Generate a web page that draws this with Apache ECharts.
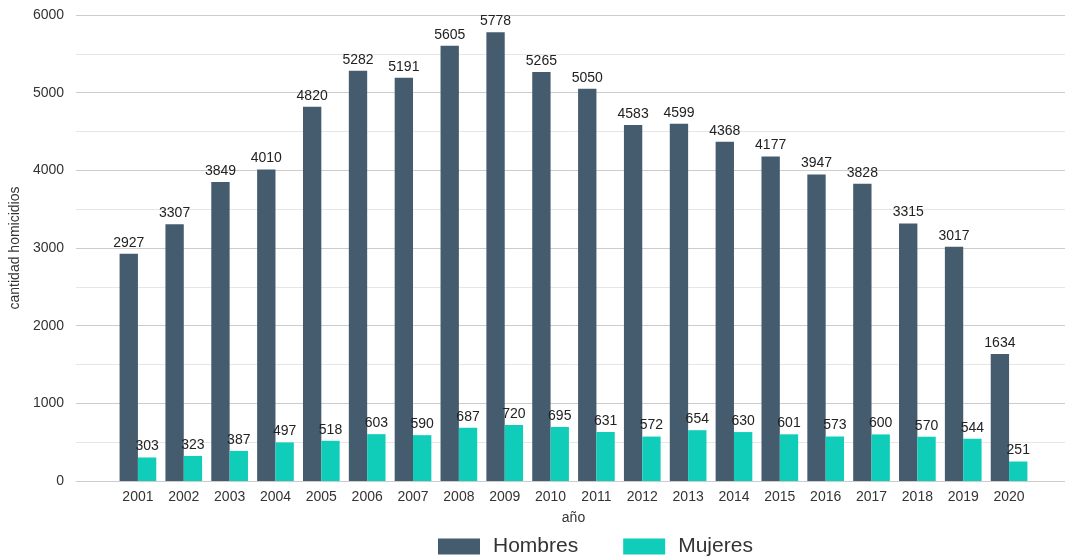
<!doctype html>
<html lang="es">
<head>
	<meta charset="UTF-8">
	<title>Homicidios por sexo</title>
	<script src="https://cdn.jsdelivr.net/npm/echarts@6/dist/echarts.min.js"></script>
	<style>
		html, body { margin: 0; padding: 0; background: #fff; }
		#chart { width: 1069px; height: 559px; }
	</style>
</head>
<body>
	<div id="chart"></div>
	<script>
		// datos
		var years = ['2001', '2002', '2003', '2004', '2005', '2006', '2007', '2008', '2009', '2010',
			'2011', '2012', '2013', '2014', '2015', '2016', '2017', '2018', '2019', '2020'];
		var hombres = [2927, 3307, 3849, 4010, 4820, 5282, 5191, 5605, 5778, 5265,
			5050, 4583, 4599, 4368, 4177, 3947, 3828, 3315, 3017, 1634];
		var mujeres = [303, 323, 387, 497, 518, 603, 590, 687, 720, 695,
			631, 572, 654, 630, 601, 573, 600, 570, 544, 251];

		var chart = echarts.init(document.getElementById('chart'));
		var font = 'Liberation Sans, Arial, sans-serif';

		var option = {
			textStyle: { fontFamily: font },
			animation: false,
			legend: {
				top: 531,
				left: 433,
				itemWidth: 42,
				itemHeight: 16,
				itemGap: 45,
				icon: 'rect',
				textStyle: { fontSize: 21, color: '#333', fontFamily: font, padding: [0, 0, 0, 8] },
				data: ['Hombres', 'Mujeres']
			},
			grid: [
				// grilla ancha para las lineas
				{ left: 72, right: 4, top: 15, bottom: 78 },
				// grilla de las barras
				{ left: 115, right: 37, top: 15, bottom: 78 }
			],
			xAxis: [
				{ gridIndex: 0, type: 'value', min: 0, max: 1, show: false },
				{
					gridIndex: 1,
					type: 'category',
					data: years,
					axisLine: { show: false },
					axisTick: { show: false },
					axisLabel: { color: '#333', fontSize: 14, margin: 9 },
					name: 'año',
					nameLocation: 'middle',
					nameGap: 30,
					nameTextStyle: { color: '#333', fontSize: 14 }
				}
			],
			yAxis: [
				{
					gridIndex: 0,
					type: 'value',
					min: 0,
					max: 6000,
					interval: 1000,
					axisLine: { show: false },
					axisTick: { show: false },
					axisLabel: {
						color: '#333', fontSize: 14, margin: 12,
						formatter: function (v) { return String(v); }
					},
					splitLine: { lineStyle: { color: '#cccccc', width: 1 } },
					minorTick: { show: false, splitNumber: 2 },
					minorSplitLine: { show: true, lineStyle: { color: '#e6e6e6', width: 1 } },
					name: 'cantidad homicidios',
					nameLocation: 'middle',
					nameGap: 46,
					nameTextStyle: { color: '#333', fontSize: 14 }
				},
				{ gridIndex: 1, type: 'value', min: 0, max: 6000, show: false }
			],
			series: [
				{
					name: 'Hombres',
					type: 'bar',
					xAxisIndex: 1,
					yAxisIndex: 1,
					data: hombres,
					barGap: '0%',
					barCategoryGap: '20%',
					itemStyle: { color: '#455b6e' },
					label: { show: true, position: 'top', distance: 4, color: '#222', fontSize: 14 }
				},
				{
					name: 'Mujeres',
					type: 'bar',
					xAxisIndex: 1,
					yAxisIndex: 1,
					data: mujeres,
					barGap: '0%',
					barCategoryGap: '20%',
					itemStyle: { color: '#0fcdb9' },
					label: { show: true, position: 'top', distance: 4, color: '#222', fontSize: 14 }
				}
			]
		};

		chart.setOption(option);
	</script>
</body>
</html>
